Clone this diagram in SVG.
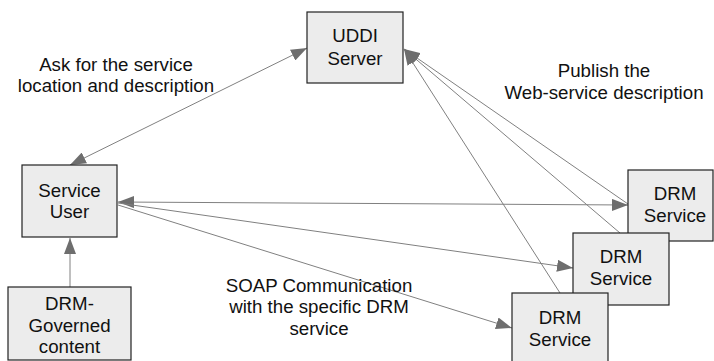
<svg xmlns="http://www.w3.org/2000/svg" width="714" height="361" viewBox="0 0 714 361">
<style>
.box{fill:#ececec;stroke:#222;stroke-width:1.2}
.t{font-family:"Liberation Sans",Arial,sans-serif;font-size:18.7px;fill:#111;text-anchor:middle}
.c{stroke:#808080;stroke-width:1;fill:none}
</style>
<defs>
<marker id="ah" markerUnits="userSpaceOnUse" markerWidth="17" markerHeight="12" refX="16" refY="6" orient="auto-start-reverse">
<path d="M0,0 L16,6 L0,12 z" fill="#6e6e6e"/>
</marker>
</defs>
<rect width="714" height="361" fill="#fff"/>
<g id="connectors">
<line class="c" x1="70" y1="165" x2="307" y2="48" marker-start="url(#ah)" marker-end="url(#ah)"/>
<line class="c" x1="628" y1="204" x2="404" y2="49" marker-end="url(#ah)"/>
<line class="c" x1="620" y1="233" x2="404" y2="49" marker-end="url(#ah)"/>
<line class="c" x1="560" y1="293" x2="404" y2="49" marker-end="url(#ah)"/>
<line class="c" x1="118" y1="202" x2="628" y2="205" marker-start="url(#ah)" marker-end="url(#ah)"/>
<line class="c" x1="118" y1="203" x2="573" y2="268" marker-end="url(#ah)"/>
<line class="c" x1="118" y1="205" x2="512" y2="328" marker-end="url(#ah)"/>
<line class="c" x1="70" y1="287" x2="70" y2="238" marker-end="url(#ah)"/>
</g>
<g id="uddi">
<rect class="box" x="307" y="12" width="96" height="71"/>
<text class="t" x="355" y="42">UDDI</text>
<text class="t" x="355" y="65">Server</text>
</g>
<g id="service-user">
<rect class="box" x="22" y="165" width="95" height="72"/>
<text class="t" x="69.5" y="197">Service</text>
<text class="t" x="69.5" y="218">User</text>
</g>
<g id="drm-content">
<rect class="box" x="8" y="287" width="123" height="73"/>
<text class="t" x="69.5" y="310">DRM-</text>
<text class="t" x="69.5" y="332">Governed</text>
<text class="t" x="69.5" y="353">content</text>
</g>
<g id="drm1">
<rect class="box" x="628" y="170" width="85" height="71"/>
<text class="t" x="675" y="200">DRM</text>
<text class="t" x="675" y="222">Service</text>
</g>
<g id="drm2">
<rect class="box" x="573" y="233" width="96" height="72"/>
<text class="t" x="621" y="263">DRM</text>
<text class="t" x="621" y="285">Service</text>
</g>
<g id="drm3">
<rect class="box" x="512" y="293" width="96" height="75"/>
<text class="t" x="560" y="324">DRM</text>
<text class="t" x="560" y="346">Service</text>
</g>
<g id="labels">
<text class="t" x="116" y="71">Ask for the service</text>
<text class="t" x="116" y="92">location and description</text>
<text class="t" x="604" y="77">Publish the</text>
<text class="t" x="604" y="99">Web-service description</text>
<text class="t" x="319" y="292">SOAP Communication</text>
<text class="t" x="319" y="313">with the specific DRM</text>
<text class="t" x="319" y="335">service</text>
</g>
</svg>
